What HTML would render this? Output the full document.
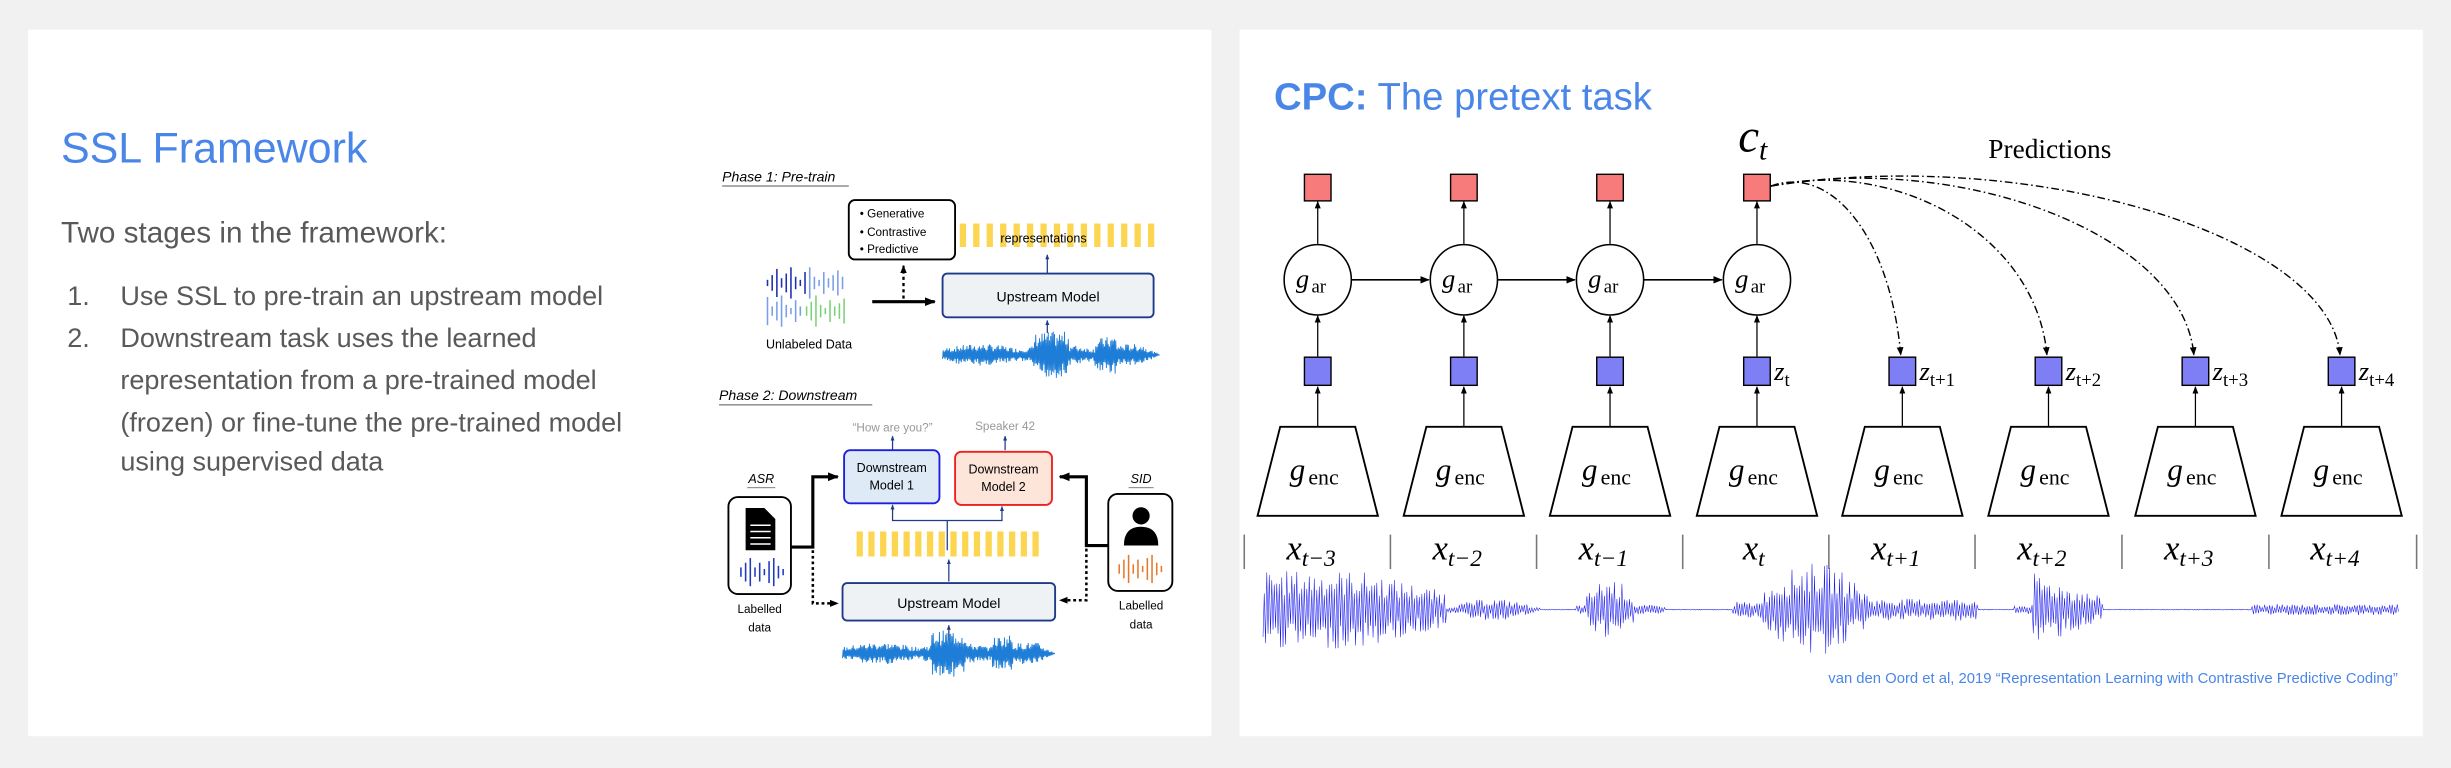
<!DOCTYPE html>
<html><head><meta charset="utf-8"><style>
html,body{margin:0;padding:0;background:#f1f1f1;}
svg{display:block;}
.sans{font-family:"Liberation Sans",sans-serif;}
.serif{font-family:"Liberation Serif",serif;}
</style></head><body>
<svg id="s" width="2451" height="768" viewBox="0 0 1568 491.3" xmlns="http://www.w3.org/2000/svg">
<defs>
<marker id="ah" viewBox="0 0 10 10" refX="9" refY="5" markerWidth="6" markerHeight="6" orient="auto-start-reverse"><path d="M0,1 L10,5 L0,9 z" fill="#000"/></marker>
<marker id="ahb" viewBox="0 0 10 10" refX="9" refY="5" markerWidth="4" markerHeight="4" orient="auto"><path d="M0,1 L10,5 L0,9 z" fill="#1f3a8a"/></marker>
<marker id="ahk" viewBox="0 0 10 10" refX="9" refY="5" markerWidth="3.5" markerHeight="3.5" orient="auto"><path d="M0,1 L10,5 L0,9 z" fill="#000"/></marker>
</defs>
<rect x="0" y="0" width="1568" height="491.3" fill="#f1f1f1"/>
<rect x="18" y="19" width="757" height="452" fill="#fff"/>
<rect x="793" y="19" width="757" height="452" fill="#fff"/>

<!-- Left text -->
<text x="39" y="104" class="sans" font-size="27.5" fill="#4a86e8">SSL Framework</text>
<text x="39" y="155" class="sans" font-size="19" fill="#595959">Two stages in the framework:</text>
<g class="sans" font-size="17.3" fill="#595959">
<text x="43" y="195">1.</text><text x="77" y="195">Use SSL to pre-train an upstream model</text>
<text x="43" y="222">2.</text><text x="77" y="222">Downstream task uses the learned</text>
<text x="77" y="249">representation from a pre-trained model</text>
<text x="77" y="276">(frozen) or fine-tune the pre-trained model</text>
<text x="77" y="301">using supervised data</text>
</g>

<!-- Phase 1 -->
<g class="sans">
<text x="462" y="116" font-size="9" font-style="italic" fill="#000">Phase 1: Pre-train</text>
<line x1="462" y1="119" x2="543" y2="119" stroke="#555" stroke-width="0.6"/>
<rect x="543" y="128" width="68" height="38" rx="4" fill="#fff" stroke="#000" stroke-width="1.2"/>
<g font-size="7.5" fill="#000"><text x="550" y="139">• Generative</text><text x="550" y="151">• Contrastive</text><text x="550" y="162">• Predictive</text></g>
<g id="yb1"></g>
<text x="640" y="155" font-size="8" fill="#000">representations</text>
<line x1="670" y1="175" x2="670" y2="163" stroke="#1f3a8a" stroke-width="0.8" marker-end="url(#ahb)"/>
<rect x="603" y="175" width="135" height="28" rx="3" fill="#eef2f4" stroke="#1f3a8a" stroke-width="1.2"/>
<text x="670.5" y="193" font-size="9" text-anchor="middle" fill="#000">Upstream Model</text>
<line x1="670" y1="213" x2="670" y2="205" stroke="#1f3a8a" stroke-width="0.8" marker-end="url(#ahb)"/>
<line x1="558" y1="193" x2="598" y2="193" stroke="#000" stroke-width="2" marker-end="url(#ahk)"/>
<line x1="578" y1="191" x2="578" y2="170" stroke="#000" stroke-width="1.5" stroke-dasharray="2,2" marker-end="url(#ahk)"/>
<g id="uw"></g>
<text x="490" y="223" font-size="8" fill="#000">Unlabeled Data</text>
<path id="w1" d="" fill="none" stroke="#1e7dd6" stroke-width="0.6"/>
</g>

<!-- Phase 2 -->
<g class="sans">
<text x="460" y="256" font-size="9" font-style="italic" fill="#000">Phase 2: Downstream</text>
<line x1="460" y1="259" x2="558" y2="259" stroke="#555" stroke-width="0.6"/>
<text x="571" y="276" font-size="7.5" text-anchor="middle" fill="#999">“How are you?”</text>
<text x="643" y="275" font-size="7.5" text-anchor="middle" fill="#999">Speaker 42</text>
<line x1="571" y1="288" x2="571" y2="279" stroke="#1f3a8a" stroke-width="0.8" marker-end="url(#ahb)"/>
<line x1="643" y1="288" x2="643" y2="279" stroke="#1f3a8a" stroke-width="0.8" marker-end="url(#ahb)"/>
<rect x="540" y="288" width="61" height="34" rx="4" fill="#deebf7" stroke="#1f1fe0" stroke-width="1.2"/>
<text x="570.5" y="302" font-size="8" text-anchor="middle">Downstream</text><text x="570.5" y="313" font-size="8" text-anchor="middle">Model 1</text>
<rect x="611" y="289" width="62" height="34" rx="4" fill="#fde5da" stroke="#f02020" stroke-width="1.2"/>
<text x="642" y="303" font-size="8" text-anchor="middle">Downstream</text><text x="642" y="314" font-size="8" text-anchor="middle">Model 2</text>
<path d="M606,352 V333 H571 V325 M606,333 H641 V325" fill="none" stroke="#1f3a8a" stroke-width="0.8"/>
<line x1="571" y1="327" x2="571" y2="323" stroke="#1f3a8a" stroke-width="0.8" marker-end="url(#ahb)"/>
<line x1="641" y1="327" x2="641" y2="324" stroke="#1f3a8a" stroke-width="0.8" marker-end="url(#ahb)"/>
<g id="yb2"></g>
<line x1="607" y1="372" x2="607" y2="358" stroke="#1f3a8a" stroke-width="0.8" marker-end="url(#ahb)"/>
<rect x="539" y="373" width="136" height="24" rx="3" fill="#eef2f4" stroke="#1f3a8a" stroke-width="1.2"/>
<text x="607" y="389" font-size="9" text-anchor="middle">Upstream Model</text>
<line x1="607" y1="410" x2="607" y2="400" stroke="#1f3a8a" stroke-width="0.8" marker-end="url(#ahb)"/>
<path id="w2" d="" fill="none" stroke="#1e7dd6" stroke-width="0.6"/>
<!-- ASR -->
<text x="487" y="309" font-size="8" font-style="italic" text-anchor="middle">ASR</text>
<line x1="478" y1="312" x2="496" y2="312" stroke="#555" stroke-width="0.5"/>
<rect x="466" y="318" width="40" height="62" rx="6" fill="#fff" stroke="#000" stroke-width="1.2"/>
<path d="M477,325 h12 l7,7 v20 h-19 z" fill="#000"/><path d="M480,336 h13 M480,340 h13 M480,344 h13 M480,348 h13" stroke="#fff" stroke-width="1"/>
<g id="asrw"></g>
<text x="486" y="392" font-size="7.5" text-anchor="middle">Labelled</text><text x="486" y="404" font-size="7.5" text-anchor="middle">data</text>
<path d="M506,350 H520 V305 H536" fill="none" stroke="#000" stroke-width="2" marker-end="url(#ahk)"/>
<path d="M520,352 V386 H536" fill="none" stroke="#000" stroke-width="1.6" stroke-dasharray="1.8,1.8" marker-end="url(#ahk)"/>
<!-- SID -->
<text x="730" y="309" font-size="8" font-style="italic" text-anchor="middle">SID</text>
<line x1="722" y1="312" x2="738" y2="312" stroke="#555" stroke-width="0.5"/>
<rect x="709" y="316" width="41" height="62" rx="6" fill="#fff" stroke="#000" stroke-width="1.2"/>
<circle cx="730" cy="330" r="5.5" fill="#000"/><path d="M719,349 q0,-12 11,-12 q11,0 11,12 z" fill="#000"/>
<g id="sidw"></g>
<text x="730" y="390" font-size="7.5" text-anchor="middle">Labelled</text><text x="730" y="402" font-size="7.5" text-anchor="middle">data</text>
<path d="M709,349 H695 V305 H678" fill="none" stroke="#000" stroke-width="2" marker-end="url(#ahk)"/>
<path d="M695,351 V384 H678" fill="none" stroke="#000" stroke-width="1.6" stroke-dasharray="1.8,1.8" marker-end="url(#ahk)"/>
</g>

<!-- Right panel -->
<text x="815" y="70" class="sans" font-size="24.5" fill="#4a86e8"><tspan font-weight="bold">CPC:</tspan> The pretext task</text>
<text x="1112" y="97" class="serif" font-size="30" font-style="italic">c<tspan font-size="19" dy="5">t</tspan></text>
<text x="1272" y="101" class="serif" font-size="17.5">Predictions</text>
<g id="cpc"></g>
<path id="w3" d="" fill="none" stroke="#1a1aee" stroke-width="0.35"/>
<text x="1534" y="437" class="sans" font-size="9.5" fill="#4a86e8" text-anchor="end">van den Oord et al, 2019 “Representation Learning with Contrastive Predictive Coding”</text>
</svg>
<script>
var NS="http://www.w3.org/2000/svg";
function el(parent,tag,attrs,txt){var e=document.createElementNS(NS,tag);for(var k in attrs)e.setAttribute(k,attrs[k]);if(txt!==undefined)e.textContent=txt;document.getElementById(parent).appendChild(e);return e;}
for(var i=0;i<15;i++){el("yb1","rect",{x:614+i*8.6,y:143,width:4,height:15,fill:"#fcd651"});}
for(var i=0;i<16;i++){el("yb2","rect",{x:548+i*7.5,y:340,width:4,height:16,fill:"#fcd651"});}
function bars(g,x0,cy,hs,col,step){for(var i=0;i<hs.length;i++){el(g,"line",{x1:x0+i*step,x2:x0+i*step,y1:cy-hs[i],y2:cy+hs[i],stroke:col,"stroke-width":1});}}
var hA=[2,5,9,3,6,10,4,2,7,3,5,8,4,2,6,9,3];
bars("uw",491,181,hA.slice(0,9),"#1f2fb0",3);bars("uw",518,181,hA.slice(5,13),"#7a9ee8",3);
bars("uw",491,199,hA.slice(2,10),"#7a9ee8",3);bars("uw",516,199,hA.slice(3,12),"#7bd17a",3);
bars("asrw",474,366,[3,6,9,3,6,2,7,9,4,2],"#1f3ac0",3);
bars("sidw",716,364,[3,6,9,3,6,2,7,9,4,2],"#e37b2e",3);
var seed=7;function rnd(){seed=(seed*9301+49297)%233280;return seed/233280;}
function dense(id,x0,x1,cy,env,step){var d="";var s=1;for(var x=x0;x<=x1;x+=step){var a=env(x)*(0.35+0.65*rnd());d+=(d?"L":"M")+x.toFixed(2)+","+(cy+s*a).toFixed(2);s=-s;}document.getElementById(id).setAttribute("d",d);}
function wenv(x0,w){return function(x){var t=(x-x0)/w;var e=4+3*Math.abs(Math.sin(t*9))+ (Math.abs(t-0.5)<0.08?8:0)+(Math.abs(t-0.75)<0.05?6:0);if(t>0.92)e*=(1-t)/0.08;return e;}}
dense("w1",603,742,227,wenv(603,139),0.4);
dense("w2",539,675,418,wenv(539,136),0.4);
function cpcEnv(x){
 if(x<870) return 25; if(x<925) return 25-(x-870)*0.25; if(x<985) return 6*Math.sin((x-925)/60*Math.PI)+1;
 if(x<1008) return 0.3; if(x<1015) return 3; if(x<1045) return 18*Math.sin((x-1010)/40*Math.PI)+2; if(x<1065) return 3;
 if(x<1108) return 0.3; if(x<1125) return 5; if(x<1200) return 27*Math.sin((x-1120)/82*Math.PI)+3;
 if(x<1265) return 7; if(x<1288) return 0.3; if(x<1300) return 3; if(x<1345) return 22-(x-1305)*0.35; if(x<1440) return 0.3; return 3.5;}
dense("w3",808,1535,390,cpcEnv,0.8);
var cx=[843,936.5,1030,1124,1217,1310.5,1404.5,1498];
var zl=["t","t+1","t+2","t+3","t+4"];
var xl=["t−3","t−2","t−1","t","t+1","t+2","t+3","t+4"];
for(var i=0;i<8;i++){var c=cx[i];
 el("cpc","path",{d:"M"+(c-24)+",273 H"+(c+24)+" L"+(c+38.5)+",330 H"+(c-38.5)+" Z",fill:"#fff",stroke:"#000","stroke-width":1.2});
 el("cpc","text",{x:c-18,y:307,"class":"serif","font-size":20,"font-style":"italic"},"g");
 el("cpc","text",{x:c-6,y:310,"class":"serif","font-size":14},"enc");
 el("cpc","line",{x1:c,y1:273,x2:c,y2:247.5,stroke:"#000","stroke-width":0.8,"marker-end":"url(#ah)"});
 el("cpc","rect",{x:c-8.5,y:228.5,width:17,height:18,fill:"#7f7ff5",stroke:"#000","stroke-width":0.9});
 if(i>=3){var z=el("cpc","text",{x:c+11,y:243,"class":"serif","font-size":17,"font-style":"italic"},"z");
  var ts=document.createElementNS(NS,"tspan");ts.setAttribute("font-size","12");ts.setAttribute("font-style","normal");ts.setAttribute("dy","4");ts.textContent=zl[i-3];z.appendChild(ts);}
 if(i<4){
  el("cpc","line",{x1:c,y1:228,x2:c,y2:202,stroke:"#000","stroke-width":0.8,"marker-end":"url(#ah)"});
  el("cpc","ellipse",{cx:c,cy:179,rx:21.5,ry:22.5,fill:"#fff",stroke:"#000","stroke-width":1});
  el("cpc","text",{x:c-14,y:184,"class":"serif","font-size":17,"font-style":"italic"},"g");
  el("cpc","text",{x:c-4,y:187,"class":"serif","font-size":12},"ar");
  el("cpc","line",{x1:c,y1:156,x2:c,y2:129,stroke:"#000","stroke-width":0.8,"marker-end":"url(#ah)"});
  el("cpc","rect",{x:c-8.5,y:111.5,width:17,height:17,fill:"#f77b7b",stroke:"#000","stroke-width":0.9});
  if(i<3) el("cpc","line",{x1:c+21.5,y1:179,x2:cx[i+1]-22.5,y2:179,stroke:"#000","stroke-width":1,"marker-end":"url(#ah)"});
 } else {
  el("cpc","path",{d:"M1133,119 C"+(1133+(c-1133)*0.45)+","+(105-(i-4)*4)+" "+(c-8)+","+(150)+" "+(c-1)+",227",fill:"none",stroke:"#000","stroke-width":0.9,"stroke-dasharray":"5,2,1,2","marker-end":"url(#ah)"});
 }
 var xt=el("cpc","text",{x:c-(xl[i].length>1?20:9),y:358,"class":"serif","font-size":22,"font-style":"italic"},"x");
 var ts2=document.createElementNS(NS,"tspan");ts2.setAttribute("font-size","15");ts2.setAttribute("dy","4");ts2.textContent=xl[i];xt.appendChild(ts2);
}
var sep=[796,889.5,983,1076.5,1170,1263.5,1357.5,1451.5,1546];
for(var j=0;j<sep.length;j++) el("cpc","line",{x1:sep[j],y1:342,x2:sep[j],y2:364,stroke:"#777","stroke-width":1});
</script>
</body></html>
